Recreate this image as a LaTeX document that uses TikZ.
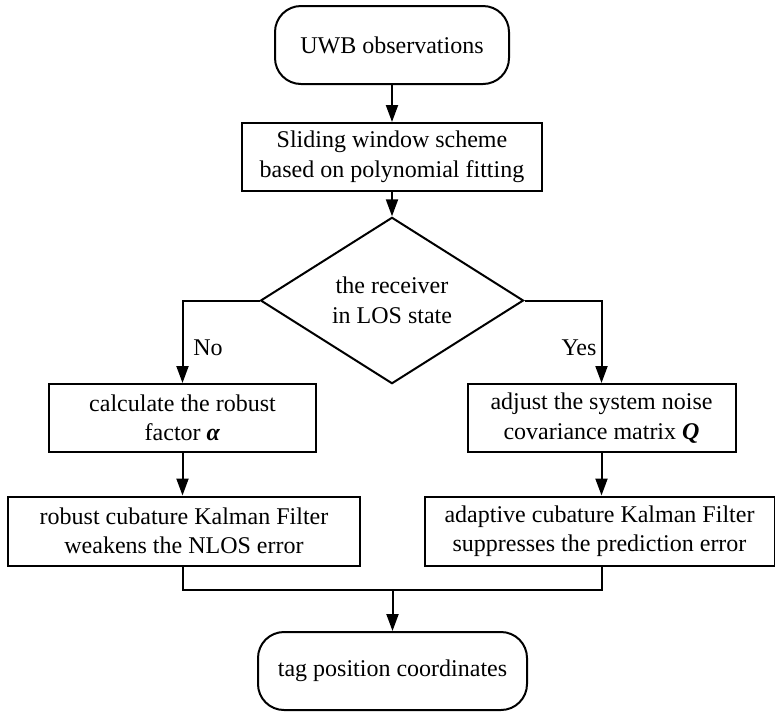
\documentclass[tikz,border=0pt]{standalone}
\usepackage{fontspec}
\setmainfont{Liberation Serif}
\usetikzlibrary{arrows.meta,shapes.geometric}
\begin{document}
\begin{tikzpicture}[x=1pt,y=-1pt,
  every node/.style={font=\fontsize{24}{29.5}\selectfont, align=center, inner sep=0pt},
  box/.style={draw, line width=2pt, rectangle},
  term/.style={draw, line width=2pt, rectangle, rounded corners=26pt},
  decision/.style={draw, line width=2pt, diamond, inner sep=0pt},
  conn/.style={line width=2pt},
  arr/.style={line width=2pt, -{Triangle[length=17pt,width=12pt]}},
  lbl/.style={font=\fontsize{24}{29}\selectfont}]
\useasboundingbox (0,0) rectangle (775,716);
\node[term, minimum width=234pt, minimum height=78pt] (top) at (392,45) {UWB observations};
\node[box, minimum width=300pt, minimum height=68pt] (slide) at (392,157) {Sliding window scheme\\based on polynomial fitting};
\node[decision, minimum width=263pt, minimum height=145pt] (dia) at (392,300.5) {the receiver\\in LOS state};
\node[box, minimum width=267pt, minimum height=68pt] (l2) at (182.5,418) {calculate the robust\\factor \textbf{\textit{α}}};
\node[box, minimum width=268pt, minimum height=68pt] (r2) at (601.5,418) {adjust the system noise\\covariance matrix \textbf{\textit{Q}}};
\node[box, minimum width=352pt, minimum height=69pt] (l3) at (184,531) {robust cubature Kalman Filter\\weakens the NLOS error};
\node[box, minimum width=350pt, minimum height=69pt] (r3) at (599.5,531) {adaptive cubature Kalman Filter\\suppresses the prediction error};
\node[term, minimum width=269pt, minimum height=78pt] (bot) at (392.5,671) {tag position coordinates};
\coordinate (merge) at (392.5,590);
\draw[arr] (top.south) -- (slide.north);
\draw[arr] (slide.south) -- (dia.north);
\draw[arr] (dia.west) -| (l2.north);
\draw[arr] (dia.east) -| (r2.north);
\draw[arr] (l2.south) -- (l2.south |- l3.north);
\draw[arr] (r2.south) -- (r2.south |- r3.north);
\draw[conn] (l2.south |- l3.south) |- (merge) -| (r2.south |- r3.south);
\draw[arr] (merge) -- (bot.north);
\node[lbl] (no) at (208,348) {No};
\node[lbl] (yes) at (579,348) {Yes};
\end{tikzpicture}
\end{document}
